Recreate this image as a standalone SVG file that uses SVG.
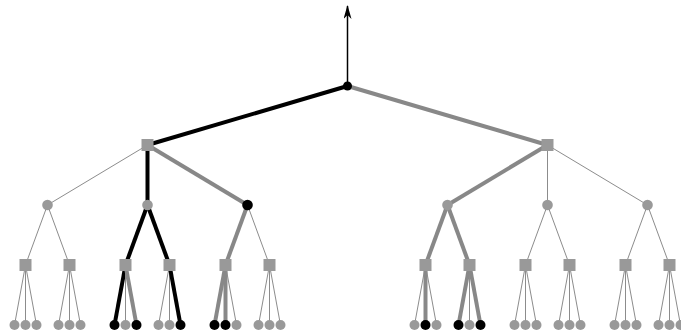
<svg xmlns="http://www.w3.org/2000/svg" width="681" height="335" viewBox="0 0 681 335">
<style>
.t{stroke:#8c8c8c;stroke-width:1;fill:none}
.g{stroke:#888;stroke-width:4;fill:none}
.k{stroke:#000;stroke-width:4;fill:none}
.sq{fill:#999}
.c{fill:#999}
.b{fill:#000}
</style>
<defs>
<marker id="ah" viewBox="0 0 14 8" refX="13" refY="4" markerWidth="14" markerHeight="8" markerUnits="userSpaceOnUse" orient="auto">
<path d="M0,0 L14,4 L0,8 L4,4 Z" fill="#000"/>
</marker>
</defs>
<g id="connectors">
<line x1="347.5" y1="86" x2="347.5" y2="6" stroke="#000" stroke-width="1.5" marker-end="url(#ah)"/>
<line class="k" x1="347.5" y1="86" x2="147.5" y2="145"/>
<line class="g" x1="347.5" y1="86" x2="547.5" y2="145"/>
<line class="t" x1="147.5" y1="145" x2="47.5" y2="205"/>
<line class="k" x1="147.5" y1="145" x2="147.5" y2="205"/>
<line class="g" x1="147.5" y1="145" x2="247.5" y2="205"/>
<line class="g" x1="547.5" y1="145" x2="447.5" y2="205"/>
<line class="t" x1="547.5" y1="145" x2="547.5" y2="205"/>
<line class="t" x1="547.5" y1="145" x2="647.5" y2="205"/>
<line class="t" x1="47.5" y1="205" x2="25.5" y2="265"/>
<line class="t" x1="47.5" y1="205" x2="69.5" y2="265"/>
<line class="k" x1="147.5" y1="205" x2="125.5" y2="265"/>
<line class="k" x1="147.5" y1="205" x2="169.5" y2="265"/>
<line class="g" x1="247.5" y1="205" x2="225.5" y2="265"/>
<line class="t" x1="247.5" y1="205" x2="269.5" y2="265"/>
<line class="g" x1="447.5" y1="205" x2="425.5" y2="265"/>
<line class="g" x1="447.5" y1="205" x2="469.5" y2="265"/>
<line class="t" x1="547.5" y1="205" x2="525.5" y2="265"/>
<line class="t" x1="547.5" y1="205" x2="569.5" y2="265"/>
<line class="t" x1="647.5" y1="205" x2="625.5" y2="265"/>
<line class="t" x1="647.5" y1="205" x2="669.5" y2="265"/>
<path class="t" d="M25.5,265L14.5,325M25.5,265L25.5,325M25.5,265L36.5,325"/>
<path class="t" d="M69.5,265L58.5,325M69.5,265L69.5,325M69.5,265L80.5,325"/>
<line class="k" x1="125.5" y1="265" x2="114.5" y2="325"/>
<line class="t" x1="125.5" y1="265" x2="125.5" y2="325"/>
<line class="g" x1="125.5" y1="265" x2="136.5" y2="325"/>
<line class="t" x1="169.5" y1="265" x2="158.5" y2="325"/>
<line class="t" x1="169.5" y1="265" x2="169.5" y2="325"/>
<line class="k" x1="169.5" y1="265" x2="180.5" y2="325"/>
<line class="g" x1="225.5" y1="265" x2="214.5" y2="325"/>
<line class="g" x1="225.5" y1="265" x2="225.5" y2="325"/>
<line class="t" x1="225.5" y1="265" x2="236.5" y2="325"/>
<path class="t" d="M269.5,265L258.5,325M269.5,265L269.5,325M269.5,265L280.5,325"/>
<line class="t" x1="425.5" y1="265" x2="414.5" y2="325"/>
<line class="g" x1="425.5" y1="265" x2="425.5" y2="325"/>
<line class="t" x1="425.5" y1="265" x2="436.5" y2="325"/>
<line class="g" x1="469.5" y1="265" x2="458.5" y2="325"/>
<line class="t" x1="469.5" y1="265" x2="469.5" y2="325"/>
<line class="g" x1="469.5" y1="265" x2="480.5" y2="325"/>
<path class="t" d="M525.5,265L514.5,325M525.5,265L525.5,325M525.5,265L536.5,325"/>
<path class="t" d="M569.5,265L558.5,325M569.5,265L569.5,325M569.5,265L580.5,325"/>
<path class="t" d="M625.5,265L614.5,325M625.5,265L625.5,325M625.5,265L636.5,325"/>
<path class="t" d="M669.5,265L658.5,325M669.5,265L669.5,325M669.5,265L680.5,325"/>
</g>
<g id="root"><circle class="b" cx="347.5" cy="86" r="4.5"/></g>
<g id="n1"><rect class="sq" x="141.5" y="139" width="12" height="12"/></g>
<g id="n2"><rect class="sq" x="541.5" y="139" width="12" height="12"/></g>
<g id="n11"><circle class="c" cx="47.5" cy="205" r="5.3"/></g>
<g id="n12"><circle class="c" cx="147.5" cy="205" r="5.3"/></g>
<g id="n13"><circle class="b" cx="247.5" cy="205" r="5.3"/></g>
<g id="n21"><circle class="c" cx="447.5" cy="205" r="5.3"/></g>
<g id="n22"><circle class="c" cx="547.5" cy="205" r="5.3"/></g>
<g id="n23"><circle class="c" cx="647.5" cy="205" r="5.3"/></g>
<g id="n111"><rect class="sq" x="19.5" y="259" width="12" height="12"/></g>
<g id="n112"><rect class="sq" x="63.5" y="259" width="12" height="12"/></g>
<g id="n121"><rect class="sq" x="119.5" y="259" width="12" height="12"/></g>
<g id="n122"><rect class="sq" x="163.5" y="259" width="12" height="12"/></g>
<g id="n131"><rect class="sq" x="219.5" y="259" width="12" height="12"/></g>
<g id="n132"><rect class="sq" x="263.5" y="259" width="12" height="12"/></g>
<g id="n211"><rect class="sq" x="419.5" y="259" width="12" height="12"/></g>
<g id="n212"><rect class="sq" x="463.5" y="259" width="12" height="12"/></g>
<g id="n221"><rect class="sq" x="519.5" y="259" width="12" height="12"/></g>
<g id="n222"><rect class="sq" x="563.5" y="259" width="12" height="12"/></g>
<g id="n231"><rect class="sq" x="619.5" y="259" width="12" height="12"/></g>
<g id="n232"><rect class="sq" x="663.5" y="259" width="12" height="12"/></g>
<g id="l1111"><circle class="c" cx="14.5" cy="325" r="5"/></g>
<g id="l1112"><circle class="c" cx="25.5" cy="325" r="5"/></g>
<g id="l1113"><circle class="c" cx="36.5" cy="325" r="5"/></g>
<g id="l1121"><circle class="c" cx="58.5" cy="325" r="5"/></g>
<g id="l1122"><circle class="c" cx="69.5" cy="325" r="5"/></g>
<g id="l1123"><circle class="c" cx="80.5" cy="325" r="5"/></g>
<g id="l1211"><circle class="b" cx="114.5" cy="325" r="5"/></g>
<g id="l1212"><circle class="c" cx="125.5" cy="325" r="5"/></g>
<g id="l1213"><circle class="b" cx="136.5" cy="325" r="5"/></g>
<g id="l1221"><circle class="c" cx="158.5" cy="325" r="5"/></g>
<g id="l1222"><circle class="c" cx="169.5" cy="325" r="5"/></g>
<g id="l1223"><circle class="b" cx="180.5" cy="325" r="5"/></g>
<g id="l1311"><circle class="b" cx="214.5" cy="325" r="5"/></g>
<g id="l1312"><circle class="b" cx="225.5" cy="325" r="5"/></g>
<g id="l1313"><circle class="c" cx="236.5" cy="325" r="5"/></g>
<g id="l1321"><circle class="c" cx="258.5" cy="325" r="5"/></g>
<g id="l1322"><circle class="c" cx="269.5" cy="325" r="5"/></g>
<g id="l1323"><circle class="c" cx="280.5" cy="325" r="5"/></g>
<g id="l2111"><circle class="c" cx="414.5" cy="325" r="5"/></g>
<g id="l2112"><circle class="b" cx="425.5" cy="325" r="5"/></g>
<g id="l2113"><circle class="c" cx="436.5" cy="325" r="5"/></g>
<g id="l2121"><circle class="b" cx="458.5" cy="325" r="5"/></g>
<g id="l2122"><circle class="c" cx="469.5" cy="325" r="5"/></g>
<g id="l2123"><circle class="b" cx="480.5" cy="325" r="5"/></g>
<g id="l2211"><circle class="c" cx="514.5" cy="325" r="5"/></g>
<g id="l2212"><circle class="c" cx="525.5" cy="325" r="5"/></g>
<g id="l2213"><circle class="c" cx="536.5" cy="325" r="5"/></g>
<g id="l2221"><circle class="c" cx="558.5" cy="325" r="5"/></g>
<g id="l2222"><circle class="c" cx="569.5" cy="325" r="5"/></g>
<g id="l2223"><circle class="c" cx="580.5" cy="325" r="5"/></g>
<g id="l2311"><circle class="c" cx="614.5" cy="325" r="5"/></g>
<g id="l2312"><circle class="c" cx="625.5" cy="325" r="5"/></g>
<g id="l2313"><circle class="c" cx="636.5" cy="325" r="5"/></g>
<g id="l2321"><circle class="c" cx="658.5" cy="325" r="5"/></g>
<g id="l2322"><circle class="c" cx="669.5" cy="325" r="5"/></g>
<g id="l2323"><circle class="c" cx="680.5" cy="325" r="5"/></g>
</svg>
